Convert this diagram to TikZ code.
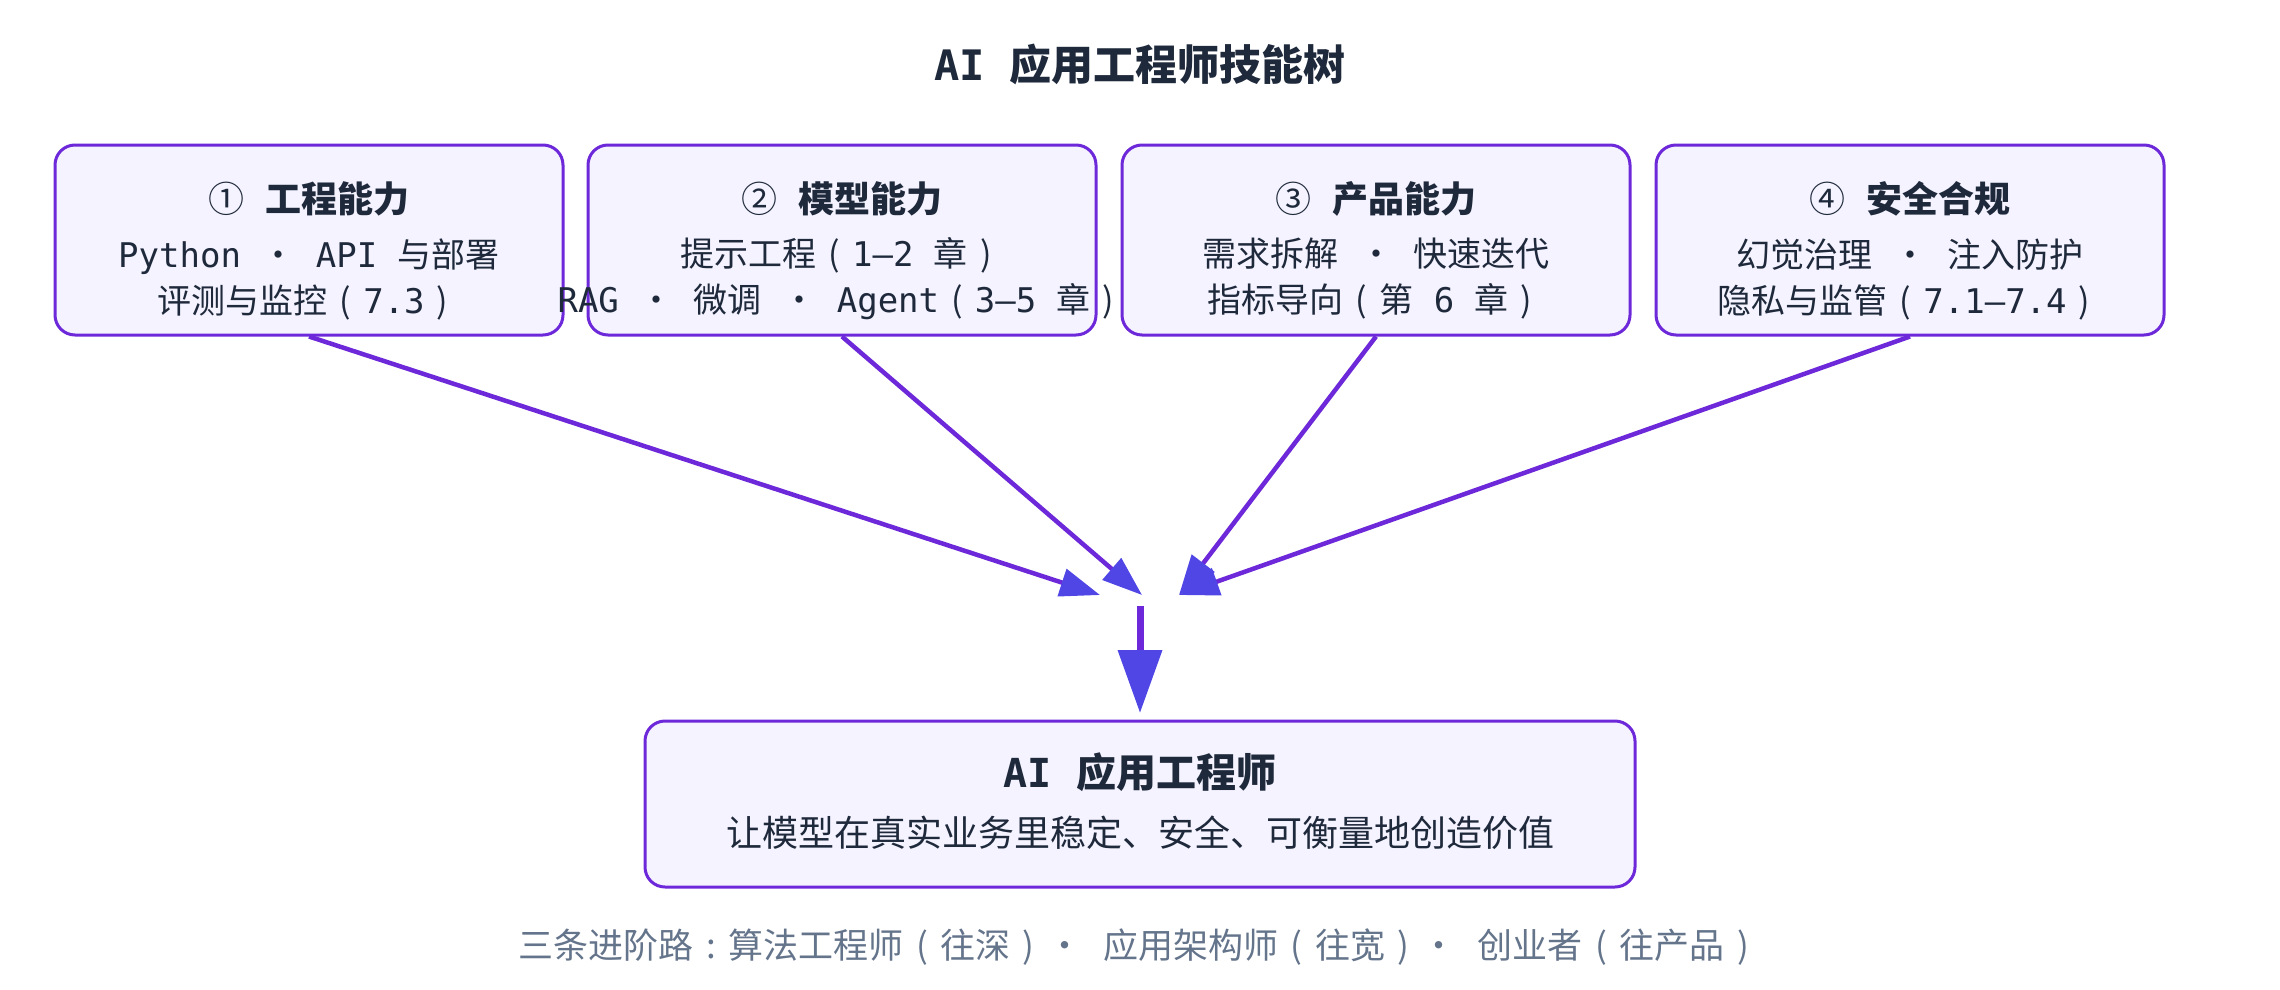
\documentclass[tikz,border=0pt]{standalone}
\usepackage{fontspec}
\setmainfont{Noto Sans CJK SC}
\newfontfamily\monof{DejaVu Sans Mono}
\usetikzlibrary{arrows.meta}
\definecolor{bordc}{HTML}{6D28D9}
\definecolor{linec}{HTML}{6D28D9}
\definecolor{headc}{HTML}{4F46E5}
\definecolor{boxf}{HTML}{F5F3FF}
\definecolor{txt}{HTML}{1E293B}
\definecolor{note}{HTML}{64748B}
\newcommand\M[1]{{\monof #1}}
\newcommand\dt{\makebox[1em]{·}}
\newcommand\lp{\makebox[1.05em][c]{(}}
\newcommand\rp{\makebox[1.05em][c]{)}}
\newcommand\cl{\makebox[1em][c]{:}}
\newcommand\fs[2]{\fontsize{#1}{#2}\selectfont}
\tikzset{
  box/.style={draw=bordc, fill=boxf, line width=3pt, rounded corners=20pt, minimum width=508pt, minimum height=190pt, inner sep=0pt},
  hd/.style={font=\fs{36}{40}\bfseries, text=txt, inner sep=0pt},
  bd/.style={font=\fs{34}{46}, text=txt, align=center, inner sep=0pt},
  conn/.style={draw=linec, line width=4.5pt, -{Triangle[length=40pt,width=28pt,color=headc]}},
  vconn/.style={draw=linec, line width=7pt, -{Triangle[length=63pt,width=43pt,color=headc]}},
}
\begin{document}
\begin{tikzpicture}[x=1pt,y=-1pt]
\path[use as bounding box] (0,0) rectangle (2280,990);
\node[font=\fs{42}{46}\bfseries, text=txt, inner sep=0pt] (title) at (1140,64) {\M{AI }应用工程师技能树};

\node[box] (b1) at (309,240) {};
\node[box] (b2) at (842,240) {};
\node[box] (b3) at (1376,240) {};
\node[box] (b4) at (1910,240) {};

\node[hd] (h1) at (309,199) {{\mdseries ①}\M{ }工程能力};
\node[bd] (t1) at (309,279) {\M{Python }\dt\M{ API }与部署\\评测与监控\lp\M{7.3}\rp};
\node[hd] (h2) at (842,199) {{\mdseries ②}\M{ }模型能力};
\node[bd] (t2) at (842,279) {提示工程\lp\M{1–2 }章\rp\\\M{RAG }\dt\M{ }微调\M{ }\dt\M{ Agent}\lp\M{3–5 }章\rp};
\node[hd] (h3) at (1376,199) {{\mdseries ③}\M{ }产品能力};
\node[bd] (t3) at (1376,279) {需求拆解\M{ }\dt\M{ }快速迭代\\指标导向\lp 第\M{ 6 }章\rp};
\node[hd] (h4) at (1910,199) {{\mdseries ④}\M{ }安全合规};
\node[bd] (t4) at (1910,279) {幻觉治理\M{ }\dt\M{ }注入防护\\隐私与监管\lp\M{7.1–7.4}\rp};

\node[draw=bordc, fill=boxf, line width=3pt, rounded corners=20pt, minimum width=990pt, minimum height=166pt, inner sep=0pt] (bot) at (1140,804) {};
\node[font=\fs{40}{44}\bfseries, text=txt, inner sep=0pt] (bott) at (1140,772) {\M{AI }应用工程师};
\node[font=\fs{36}{40}, text=txt, inner sep=0pt] (bots) at (1140,833) {让模型在真实业务里稳定、安全、可衡量地创造价值};

\coordinate (j1) at (1100,595);
\coordinate (j2) at (1142,595);
\coordinate (j3) at (1179,595);
\coordinate (vs) at (1140,606);
\coordinate (vt) at (1140,713);

\draw[conn] (b1.south) -- (j1);
\draw[conn] (b2.south) -- (j2);
\draw[conn] (b3.south) -- (j3);
\draw[conn] (b4.south) -- (j3);
\draw[vconn] (vs) -- (vt);

\node[font=\fs{35}{40}, text=note, inner sep=0pt] (foot) at (1140,947) {三条进阶路\cl 算法工程师\lp 往深\rp\dt\M{ }应用架构师\lp 往宽\rp\dt\M{ }创业者\lp 往产品\rp};
\end{tikzpicture}
\end{document}
